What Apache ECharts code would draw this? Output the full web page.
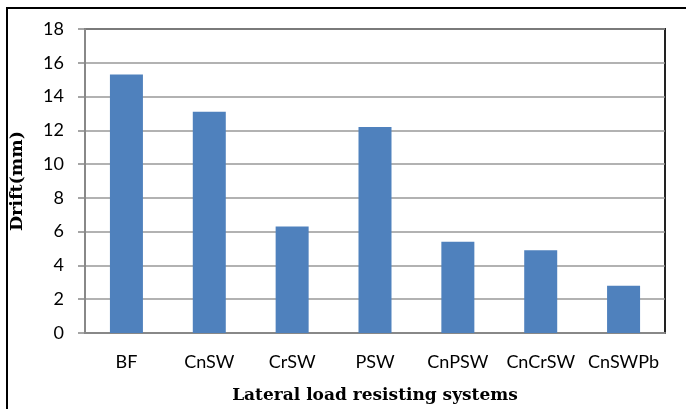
<!DOCTYPE html>
<html>
<head>
<meta charset="utf-8">
<script src="https://cdn.jsdelivr.net/npm/echarts@6/dist/echarts.min.js"></script>
<style>
html, body { margin: 0; padding: 0; background: #fff; }
#chart { width: 686px; height: 409px; }
</style>
</head>
<body>
<div id="chart"></div>
<script>
// 横轴类别
var systems = ['BF', 'CnSW', 'CrSW', 'PSW', 'CnPSW', 'CnCrSW', 'CnSWPb'];
// 侧移值 (mm)
var drift = [15.3, 13.1, 6.3, 12.2, 5.4, 4.9, 2.8];
var yTicks = [0, 2, 4, 6, 8, 10, 12, 14, 16, 18];

var chart = echarts.init(document.getElementById('chart'));
chart.setOption({
    animation: false,
    backgroundColor: '#fff',
    graphic: [
        {
            type: 'rect',
            shape: { x: 7, y: 8, width: 700, height: 420 },
            style: { fill: 'none', stroke: '#000', lineWidth: 2 },
            silent: true
        }
    ],
    grid: {
        left: 84,
        top: 29,
        right: 21,
        bottom: 74,
        show: true,
        borderColor: '#222',
        borderWidth: 2
    },
    xAxis: {
        type: 'category',
        data: systems,
        name: 'Lateral load resisting systems',
        nameLocation: 'middle',
        nameGap: 54,
        nameTextStyle: {
            fontFamily: 'DejaVu Serif',
            fontWeight: 'bold',
            fontSize: 17,
            color: '#000'
        },
        axisLine: { lineStyle: { color: '#888', width: 2 } },
        axisTick: { show: false },
        axisLabel: {
            interval: 0,
            fontFamily: 'Lato',
            fontSize: 18,
            color: '#000',
            margin: 20
        }
    },
    yAxis: {
        type: 'value',
        min: yTicks[0],
        max: yTicks[yTicks.length - 1],
        interval: 2,
        name: 'Drift(mm)',
        nameLocation: 'middle',
        nameGap: 59,
        nameTextStyle: {
            fontFamily: 'DejaVu Serif',
            fontWeight: 'bold',
            fontSize: 17.5,
            color: '#000'
        },
        axisLine: { show: true, lineStyle: { color: '#888', width: 2 } },
        axisTick: { show: true, length: 7, lineStyle: { color: '#888', width: 1.5 } },
        axisLabel: {
            fontFamily: 'Lato',
            fontSize: 18,
            color: '#000',
            margin: 21
        },
        splitLine: { lineStyle: { color: '#999', width: 1.5 } }
    },
    series: [
        {
            type: 'bar',
            data: drift,
            barWidth: 33,
            itemStyle: { color: '#4F81BD' }
        }
    ]
});
</script>
</body>
</html>
